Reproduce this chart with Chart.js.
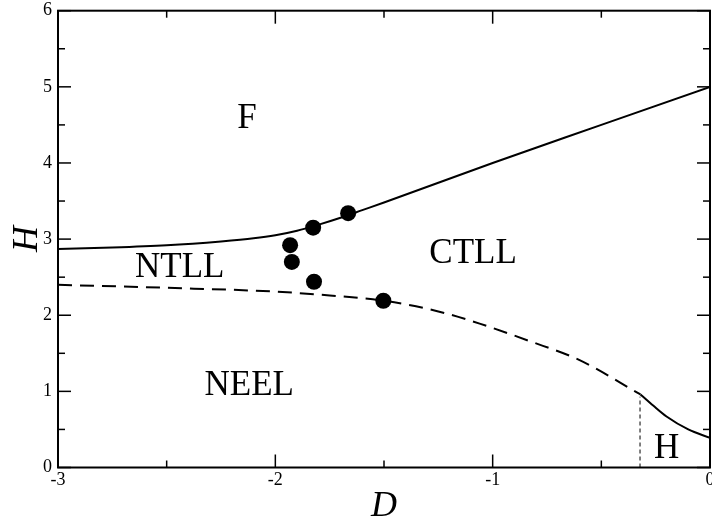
<!DOCTYPE html>
<html>
<head>
<meta charset="utf-8">
<script src="https://cdn.jsdelivr.net/npm/chart.js@4.4.1/dist/chart.umd.min.js"></script>
<style>
  body { margin: 0; background: #fff; }
  #wrap { width: 712px; height: 521px; }
</style>
</head>
<body>
<div id="wrap"><canvas id="chart"></canvas></div>
<script>
// axis ticks
const xTicks = [-3, -2, -1, 0];
const yTicks = [0, 1, 2, 3, 4, 5, 6];

// upper boundary (solid)
const upperD = [-3, -2.75, -2.5, -2.25, -2.1, -2.0, -1.9, -1.8, -1.7, -1.6, -1.5, -1.0, -0.5, 0];
const upperH = [2.87, 2.89, 2.92, 2.97, 3.01, 3.05, 3.11, 3.19, 3.28, 3.38, 3.48, 4.0, 4.5, 5.0];

// lower boundary (dashed)
const lowerD = [-3, -2.5, -2.0, -1.75, -1.5, -1.25, -1.06, -0.83, -0.6, -0.32];
const lowerH = [2.40, 2.36, 2.31, 2.26, 2.19, 2.05, 1.89, 1.66, 1.41, 0.96];

// Haldane boundary (solid, small D)
const hD = [-0.32, -0.26, -0.2, -0.1, 0];
const hH = [0.96, 0.81, 0.67, 0.50, 0.39];

// vertical separator
const sepD = [-0.322, -0.322];
const sepH = [0, 0.93];

// numerical points
const dotD = [-1.665, -1.826, -1.932, -1.924, -1.822, -1.503];
const dotH = [3.34, 3.15, 2.92, 2.70, 2.44, 2.19];

// phase labels
const regionText = ["F", "NTLL", "CTLL", "NEEL", "H"];
const regionD = [-2.13, -2.44, -1.09, -2.12, -0.20];
const regionH = [4.46, 2.50, 2.69, 0.95, 0.12];

const pts = (xs, ys) => xs.map((x, i) => ({ x, y: ys[i] }));
const serif = "'Liberation Serif', 'DejaVu Serif', serif";

const framePlugin = {
  id: "frame",
  afterDraw(chart) {
    const { ctx, chartArea: a, scales } = chart;
    const sx = scales.x, sy = scales.y;
    ctx.save();
    ctx.strokeStyle = "#000";

    // inward ticks on all four sides
    ctx.lineWidth = 1.5;
    const tick = (x1, y1, x2, y2) => {
      ctx.beginPath(); ctx.moveTo(x1, y1); ctx.lineTo(x2, y2); ctx.stroke();
    };
    for (let v = -3; v <= 0.001; v += 0.5) {
      const len = Number.isInteger(v) ? 13 : 7;
      const px = sx.getPixelForValue(v);
      tick(px, a.bottom, px, a.bottom - len);
      tick(px, a.top, px, a.top + len);
    }
    for (let v = 0; v <= 6.001; v += 0.5) {
      const len = Number.isInteger(v) ? 13 : 7;
      const py = sy.getPixelForValue(v);
      tick(a.left, py, a.left + len, py);
      tick(a.right, py, a.right - len, py);
    }

    // box
    ctx.lineWidth = 2;
    ctx.strokeRect(a.left, a.top, a.right - a.left, a.bottom - a.top);

    // region labels
    ctx.fillStyle = "#000";
    ctx.font = `35px ${serif}`;
    ctx.textAlign = "center";
    ctx.textBaseline = "alphabetic";
    regionText.forEach((t, i) => {
      ctx.fillText(t, sx.getPixelForValue(regionD[i]), sy.getPixelForValue(regionH[i]));
    });

    // axis titles
    ctx.font = `italic 36px ${serif}`;
    ctx.fillText("D", (a.left + a.right) / 2, 516);
    ctx.translate(37, (a.top + a.bottom) / 2);
    ctx.rotate(-Math.PI / 2);
    ctx.fillText("H", 0, 0);
    ctx.restore();
  }
};

const line = (data, extra) => Object.assign({
  type: "line",
  data,
  borderColor: "#000",
  borderWidth: 2,
  pointRadius: 0,
  cubicInterpolationMode: "monotone",
  fill: false
}, extra);

new Chart(document.getElementById("chart"), {
  type: "scatter",
  data: {
    datasets: [
      line(pts(upperD, upperH)),
      line(pts(lowerD, lowerH), { borderDash: [14, 8] }),
      line(pts(hD, hH)),
      line(pts(sepD, sepH), { borderWidth: 1, borderDash: [4, 3], cubicInterpolationMode: "default", tension: 0 }),
      {
        type: "scatter",
        data: pts(dotD, dotH),
        pointRadius: 8,
        pointBackgroundColor: "#000",
        pointBorderWidth: 0
      }
    ]
  },
  options: {
    responsive: true,
    maintainAspectRatio: false,
    animation: false,
    devicePixelRatio: 1,
    layout: { autoPadding: false, padding: { top: 10.7, right: 2, left: 0, bottom: 0 } },
    plugins: { legend: { display: false }, tooltip: { enabled: false } },
    scales: {
      x: {
        type: "linear",
        min: -3,
        max: 0,
        afterBuildTicks: s => { s.ticks = xTicks.map(v => ({ value: v })); },
        afterFit: s => { s.height = 53.5; s.paddingLeft = 0; s.paddingRight = 0; },
        ticks: { font: { family: serif, size: 18 }, color: "#000", padding: 2, maxRotation: 0, autoSkip: false },
        grid: { display: false, drawTicks: false },
        border: { display: false }
      },
      y: {
        type: "linear",
        min: 0,
        max: 6,
        afterBuildTicks: s => { s.ticks = yTicks.map(v => ({ value: v })); },
        afterFit: s => { s.width = 58; s.paddingTop = 0; s.paddingBottom = 0; },
        ticks: { font: { family: serif, size: 18 }, color: "#000", padding: 6, autoSkip: false },
        grid: { display: false, drawTicks: false },
        border: { display: false }
      }
    }
  },
  plugins: [framePlugin]
});
</script>
</body>
</html>
